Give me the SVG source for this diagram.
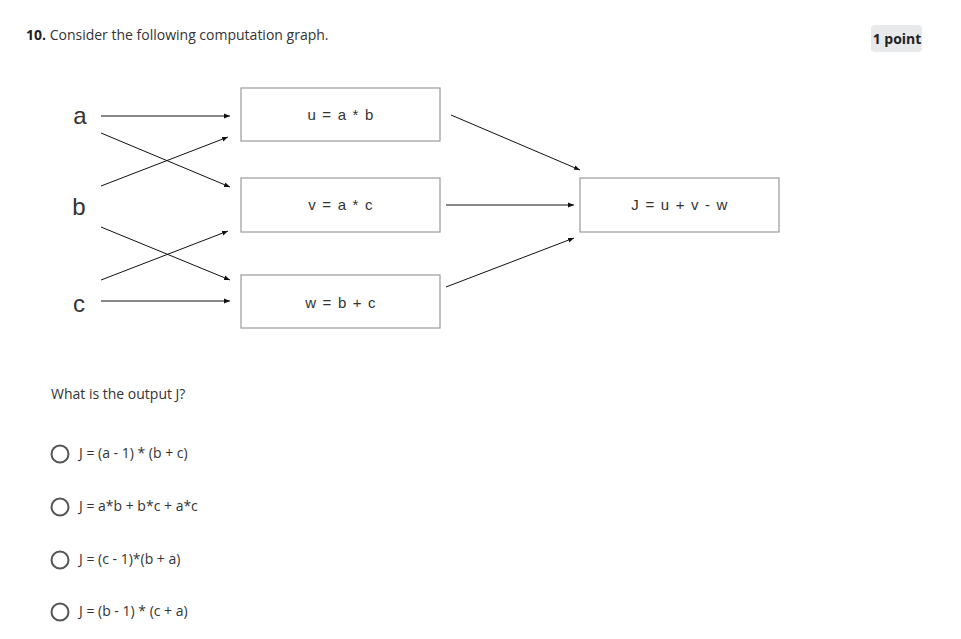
<svg xmlns="http://www.w3.org/2000/svg" width="961" height="639" viewBox="0 0 961 639">
<style>
.q{font-family:"Open Sans",sans-serif;font-size:14px;fill:#333}
.b{font-weight:bold;fill:#222}
.box{fill:#fff;stroke:#9a9a9a;stroke-width:1.2}
.lbl{font-family:"Liberation Sans",Arial,sans-serif;font-size:15px;letter-spacing:1.2px;fill:#333;text-anchor:middle}
.var{font-family:"Liberation Sans",Arial,sans-serif;font-size:24px;fill:#333;text-anchor:middle}
.edge{stroke:#111;stroke-width:1;fill:none;marker-end:url(#ah)}
.radio{fill:#fff;stroke:#555;stroke-width:2}
</style>
<defs>
<marker id="ah" viewBox="0 0 10 10" refX="10" refY="5" markerWidth="6" markerHeight="6" markerUnits="userSpaceOnUse" orient="auto">
<path d="M0,1 L10,5 L0,9 z" fill="#111"/>
</marker>
</defs>
<rect width="961" height="639" fill="#fff"/>
<text class="q" x="26" y="40" font-size="14.2"><tspan class="b">10.</tspan> Consider the following computation graph.</text>
<g id="badge">
<rect x="871" y="25" width="51" height="27" rx="4" fill="#e8e9eb"/>
<text class="q b" x="897" y="44" text-anchor="middle" font-size="12">1 point</text>
</g>
<g id="a"><text class="var" x="80" y="124">a</text></g>
<g id="b"><text class="var" x="79" y="215">b</text></g>
<g id="c"><text class="var" x="79" y="312">c</text></g>
<g id="u"><rect class="box" x="241" y="88" width="199" height="53"/><text class="lbl" x="341" y="120">u = a * b</text></g>
<g id="v"><rect class="box" x="241" y="178" width="199" height="54"/><text class="lbl" x="341" y="210">v = a * c</text></g>
<g id="w"><rect class="box" x="241" y="275" width="199" height="53"/><text class="lbl" x="341" y="308">w = b + c</text></g>
<g id="J"><rect class="box" x="580" y="178" width="199" height="54"/><text class="lbl" x="680" y="210">J = u + v - w</text></g>
<g id="edges">
<line class="edge" x1="101" y1="116" x2="230" y2="116"/>
<line class="edge" x1="101" y1="133" x2="230" y2="187"/>
<line class="edge" x1="101" y1="186" x2="228" y2="137"/>
<line class="edge" x1="101" y1="227" x2="230" y2="280"/>
<line class="edge" x1="101" y1="280" x2="228" y2="231"/>
<line class="edge" x1="101" y1="301" x2="230" y2="301"/>
<line class="edge" x1="451" y1="115" x2="580" y2="170"/>
<line class="edge" x1="446" y1="205" x2="574" y2="205"/>
<line class="edge" x1="446" y1="287" x2="574" y2="238"/>
</g>
<text class="q" x="51" y="399">What is the output J?</text>
<g id="opt1"><circle class="radio" cx="60" cy="454" r="8.5"/><text class="q" x="79" y="458" font-size="13.2">J = (a - 1) * (b + c)</text></g>
<g id="opt2"><circle class="radio" cx="60" cy="507" r="8.5"/><text class="q" x="79" y="511" font-size="13.2">J = a*b + b*c + a*c</text></g>
<g id="opt3"><circle class="radio" cx="60" cy="560" r="8.5"/><text class="q" x="79" y="564" font-size="13.2">J = (c - 1)*(b + a)</text></g>
<g id="opt4"><circle class="radio" cx="60" cy="612" r="8.5"/><text class="q" x="79" y="616" font-size="13.2">J = (b - 1) * (c + a)</text></g>
</svg>
